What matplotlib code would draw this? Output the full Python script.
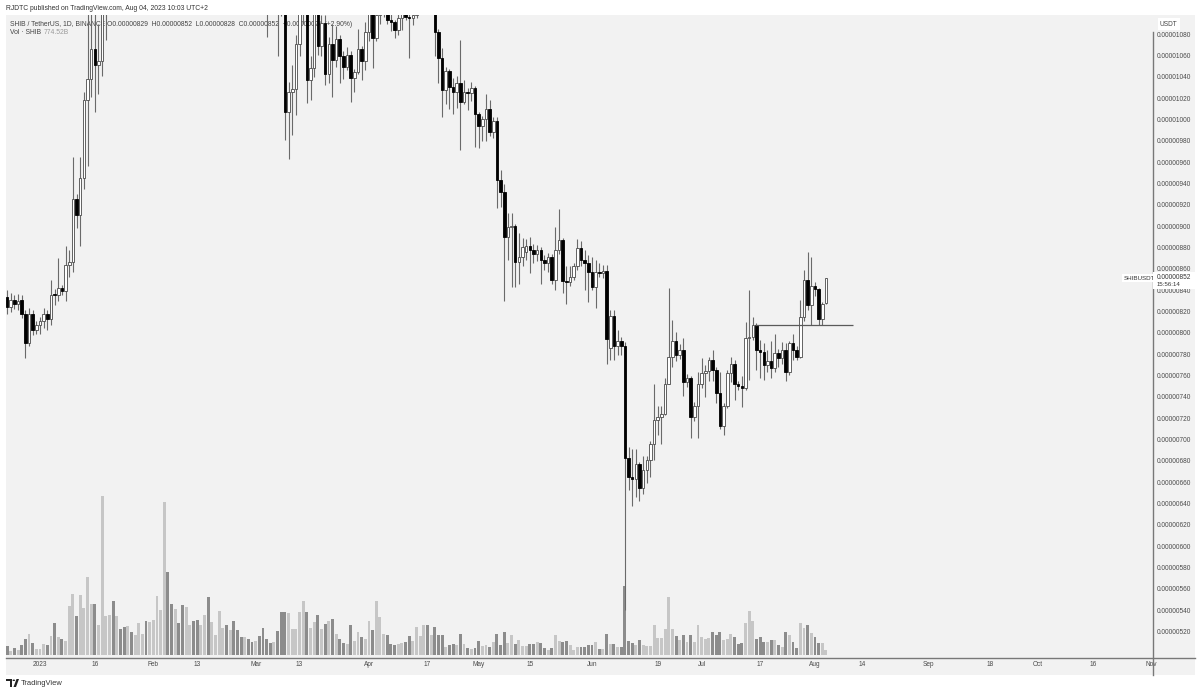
import numpy as np
import pandas as pd
import matplotlib
matplotlib.use('Agg')
import matplotlib.pyplot as plt
from matplotlib.patches import Rectangle, Polygon, Circle
from matplotlib import transforms

plt.rcParams['font.family'] = ['Liberation Sans', 'DejaVu Sans']

W, H = 1200, 691

# daily candles from 2022-12-23, prices in units of 1e-8 USDT
start_date = '2022-12-23'
opens = [834, 825, 832, 828, 832, 818, 791, 818, 803, 808, 812, 818, 814, 837, 836, 843, 840, 864, 867, 926,
         911, 946, 1019, 1039, 1067, 1052, 1056, 1150, 1175, 1190, 1165, 1185, 1170, 1160, 1195, 1180, 1200, 1215, 1230, 1210,
         1240, 1280, 1300, 1330, 1420, 1340, 1290, 1310, 1270, 1220, 1240, 1250, 1210, 1190, 1230, 1310, 1290, 1320, 1340, 1370,
         1390, 1340, 1360, 1320, 1280, 1250, 1270, 1240, 1220, 1230, 1200, 1170, 1140, 1130, 1135, 1125, 1108, 1008, 1027, 1029,
         1072, 1105, 1112, 1038, 1049, 1105, 1070, 1091, 1043, 1072, 1057, 1076, 1060, 1050, 1061, 1040, 1045, 1067, 1056, 1083,
         1108, 1077, 1099, 1104, 1108, 1094, 1092, 1085, 1096, 1101, 1097, 1096, 1099, 1108, 1115, 1120, 1112, 1118, 1083, 1058,
         1028, 1046, 1031, 1027, 1035, 1017, 1027, 1026, 1030, 1006, 995, 1001, 1011, 989, 999, 944, 933, 891, 900, 901,
         867, 872, 877, 882, 878, 875, 878, 869, 866, 872, 850, 878, 888, 849, 848, 853, 863, 880, 869, 866,
         858, 844, 858, 857, 859, 787, 817, 788, 793, 788, 683, 666, 664, 678, 655, 672, 682, 697, 719, 722,
         725, 753, 778, 793, 780, 785, 755, 758, 722, 732, 753, 763, 765, 775, 766, 744, 713, 732, 763, 772,
         753, 751, 749, 796, 797, 808, 785, 783, 771, 774, 768, 782, 777, 785, 764, 791, 785, 778, 816, 850,
         827, 845, 842, 814, 829]
highs = [841, 838, 836, 837, 836, 822, 824, 822, 812, 816, 824, 822, 850, 842, 871, 846, 882, 878, 966, 931,
         966, 1027, 1110, 1115, 1105, 1090, 1170, 1190, 1200, 1198, 1195, 1192, 1178, 1205, 1202, 1210, 1222, 1240, 1236, 1248,
         1290, 1312, 1340, 1570, 1430, 1350, 1322, 1318, 1280, 1250, 1260, 1256, 1218, 1240, 1325, 1330, 1330, 1350, 1390, 1400,
         1396, 1372, 1366, 1328, 1290, 1280, 1276, 1248, 1240, 1236, 1208, 1178, 1150, 1145, 1142, 1130, 1115, 1036, 1052, 1080,
         1112, 1125, 1118, 1060, 1112, 1110, 1099, 1099, 1078, 1090, 1088, 1080, 1065, 1069, 1065, 1048, 1086, 1070, 1092, 1115,
         1112, 1104, 1112, 1115, 1112, 1100, 1094, 1100, 1106, 1108, 1105, 1104, 1113, 1122, 1128, 1125, 1125, 1120, 1086, 1068,
         1050, 1048, 1040, 1042, 1075, 1038, 1030, 1036, 1032, 1008, 1004, 1025, 1019, 1003, 1003, 953, 940, 913, 913, 903,
         894, 890, 889, 891, 884, 883, 881, 874, 876, 875, 900, 917, 890, 863, 863, 866, 889, 887, 878, 874,
         872, 869, 866, 864, 864, 822, 822, 803, 797, 792, 694, 692, 692, 680, 685, 685, 699, 753, 732, 732,
         758, 843, 813, 802, 790, 796, 762, 760, 736, 764, 777, 771, 778, 785, 769, 764, 735, 766, 778, 775,
         756, 760, 811, 841, 816, 810, 794, 791, 785, 793, 800, 786, 792, 791, 793, 800, 788, 832, 860, 877,
         872, 848, 843, 830, 852]
lows = [818, 820, 823, 822, 815, 777, 788, 799, 800, 800, 805, 803, 808, 827, 831, 836, 831, 853, 858, 899,
        882, 936, 957, 1022, 1008, 1025, 1042, 1075, 1165, 1155, 1158, 1162, 1150, 1152, 1172, 1175, 1192, 1205, 1200, 1204,
        1232, 1270, 1290, 1320, 1320, 1275, 1280, 1260, 1200, 1205, 1228, 1200, 1180, 1184, 1222, 1270, 1282, 1310, 1330, 1355,
        1330, 1332, 1310, 1270, 1240, 1242, 1232, 1210, 1212, 1190, 1160, 1078, 1120, 1120, 1060, 1098, 982, 964, 986, 1005,
        1060, 1090, 1016, 1019, 1041, 1061, 1060, 1033, 1035, 1022, 1050, 1035, 1039, 1047, 1017, 1027, 1043, 1038, 1047, 1074,
        1049, 1074, 1090, 1097, 1090, 1084, 1077, 1080, 1085, 1094, 1058, 1089, 1096, 1104, 1110, 1104, 1106, 1060, 1035, 1003,
        1015, 1011, 1006, 1012, 972, 1015, 1010, 1018, 975, 974, 981, 981, 985, 983, 918, 919, 831, 869, 844, 844,
        847, 863, 869, 857, 866, 868, 847, 860, 858, 847, 841, 875, 838, 828, 845, 850, 860, 863, 841, 830,
        841, 824, 853, 852, 772, 775, 775, 780, 780, 541, 653, 638, 647, 643, 650, 660, 666, 682, 705, 697,
        724, 753, 769, 774, 776, 742, 750, 702, 718, 702, 749, 741, 756, 756, 735, 711, 705, 730, 755, 738,
        747, 731, 747, 757, 794, 766, 758, 757, 764, 758, 764, 769, 772, 756, 761, 775, 775, 777, 812, 822,
        808, 835, 808, 808, 828]
closes = [825, 832, 828, 831, 818, 791, 818, 803, 808, 812, 818, 814, 836, 836, 843, 840, 864, 867, 926, 911,
          946, 1019, 1039, 1067, 1052, 1056, 1150, 1175, 1190, 1165, 1185, 1170, 1160, 1195, 1180, 1200, 1215, 1230, 1210, 1240,
          1280, 1300, 1330, 1420, 1340, 1290, 1310, 1270, 1220, 1240, 1250, 1210, 1190, 1230, 1310, 1290, 1320, 1340, 1370, 1390,
          1340, 1360, 1320, 1280, 1250, 1270, 1240, 1220, 1230, 1200, 1170, 1140, 1130, 1135, 1125, 1108, 1008, 1027, 1029, 1072,
          1105, 1112, 1038, 1049, 1105, 1070, 1091, 1043, 1072, 1057, 1076, 1060, 1050, 1061, 1040, 1045, 1067, 1056, 1083, 1108,
          1077, 1099, 1104, 1108, 1094, 1092, 1085, 1096, 1101, 1097, 1096, 1099, 1108, 1115, 1120, 1112, 1118, 1083, 1058, 1028,
          1046, 1031, 1027, 1035, 1017, 1027, 1026, 1030, 1006, 995, 1001, 1011, 989, 999, 944, 933, 891, 900, 901, 867,
          872, 881, 882, 878, 875, 878, 869, 866, 872, 850, 878, 888, 849, 848, 853, 863, 880, 869, 866, 858,
          844, 858, 857, 859, 795, 817, 788, 793, 788, 683, 666, 664, 678, 655, 672, 682, 697, 719, 722, 725,
          753, 778, 793, 780, 785, 755, 758, 722, 732, 753, 763, 765, 775, 766, 744, 713, 732, 763, 772, 753,
          751, 749, 796, 797, 808, 785, 783, 771, 774, 768, 782, 777, 785, 764, 791, 785, 778, 816, 850, 827,
          845, 842, 814, 828, 852]
# volume in billions of SHIB
volumes = [1450, 620, 1030, 780, 1550, 2430, 3200, 1860, 930, 930, 1700, 1550, 2950, 4960, 2790, 2480, 2220, 7600, 9510, 6050,
           9400, 7390, 12140, 7900, 7900, 4750, 24800, 6050, 6250, 8470, 6050, 4030, 4390, 4550, 3570, 3050, 4960, 3310, 5270, 5170,
           5430, 9250, 6980, 23870, 12920, 8010, 7130, 4960, 7850, 7440, 4650, 5270, 5430, 4650, 6250, 8990, 5120, 3150, 6870, 4240,
           4750, 3880, 5370, 3880, 2790, 2790, 2480, 1960, 2170, 2950, 4190, 2430, 1910, 2070, 3670, 6670, 6670, 6560, 4130, 4130,
           6670, 8370, 6670, 4240, 5170, 6250, 4080, 4810, 5370, 5530, 3260, 2530, 1910, 1650, 4650, 2220, 3510, 2840, 2530, 5270,
           3880, 8470, 5940, 3260, 3150, 1760, 1600, 1700, 1910, 2020, 3000, 2170, 4390, 2890, 4600, 4650, 3100, 4290, 3100, 3100,
           1290, 1500, 1700, 1600, 3260, 1700, 1030, 930, 1140, 2220, 1450, 1600, 1290, 1960, 3260, 1500, 3510, 1860, 3050, 1700,
           2380, 1400, 1340, 1650, 1650, 2020, 1860, 1140, 780, 1140, 3100, 2220, 1960, 2120, 1550, 780, 1190, 1190, 1290, 1600,
           1500, 2020, 880, 930, 3260, 1700, 1700, 1190, 1290, 10700, 2120, 1860, 1550, 2270, 1550, 1450, 1340, 4750, 2580, 2580,
           4030, 9090, 4080, 2950, 2270, 3100, 1960, 3100, 1960, 4600, 2740, 2430, 2580, 3510, 3100, 3510, 2270, 2480, 3200, 2840,
           1760, 1810, 5010, 6920, 5220, 2480, 2840, 1960, 2020, 2270, 2270, 1600, 1190, 3510, 3100, 1960, 1140, 5010, 4190, 4700,
           3360, 2740, 1860, 1810, 775]

tick_dates = ['2023-01-01', '2023-01-16', '2023-02-01', '2023-02-13', '2023-03-01', '2023-03-13', '2023-04-01',
              '2023-04-17', '2023-05-01', '2023-05-15', '2023-06-01', '2023-06-19', '2023-07-01', '2023-07-17',
              '2023-08-01', '2023-08-14', '2023-09-01', '2023-09-18', '2023-10-01', '2023-10-16', '2023-11-01']
tick_labels = ['2023', '16', 'Feb', '13', 'Mar', '13', 'Apr', '17', 'May', '15', 'Jun', '19', 'Jul', '17',
               'Aug', '14', 'Sep', '18', 'Oct', '16', 'Nov']
price_ticks = list(range(520, 1081, 20))
level_price = 808
level_span = ('2023-07-15', '2023-08-12')

base = pd.Timestamp('2023-01-01')
dates = pd.date_range(start_date, periods=len(opens), freq='D')
x = np.asarray((dates - base).days, dtype=float)
o = np.array(opens, float)
h = np.array(highs, float)
l = np.array(lows, float)
c = np.array(closes, float)
v = np.array(volumes, float)
up = c >= o


def fx(px):
    return px / W


def fy(py):
    return 1 - py / H


fig = plt.figure(figsize=(W / 100, H / 100), dpi=100)
fig.patch.set_facecolor('white')
fig.patches.append(Rectangle((fx(6), fy(675)), fx(1195) - fx(6), fy(15) - fy(675),
                             transform=fig.transFigure, facecolor='#f2f2f2', edgecolor='none', zorder=0))

ax_rect = [fx(6), fy(657), fx(1152) - fx(6), fy(15) - fy(657)]
ax = fig.add_axes(ax_rect)
axv = fig.add_axes(ax_rect)
axv.set_zorder(1)
ax.set_zorder(2)
for a in (ax, axv):
    a.patch.set_visible(False)
    for s in a.spines.values():
        s.set_visible(False)
    a.set_xticks([])
    a.set_yticks([])
    a.set_xlim(-9.3, 304.2)

# volume
axv.set_ylim(-300, 99500)
axv.bar(x, v, width=0.8, color=np.where(up, '#c6c6c6', '#8c8c8c'), linewidth=0)

# candles
ax.set_ylim(496.9, 1098.75)
ax.vlines(x, l, h, color='#6a6a6a', linewidth=0.8, zorder=2)
lo = np.minimum(o, c)
bh = np.maximum(np.abs(c - o), 0.8)
ax.bar(x[up], bh[up], bottom=lo[up], width=0.7, color='white', edgecolor='#4a4a4a', linewidth=0.6, zorder=3)
ax.bar(x[~up], bh[~up], bottom=lo[~up], width=0.7, color='black', edgecolor='black', linewidth=0.6, zorder=3)

lx = (pd.to_datetime(list(level_span)) - base).days
ax.hlines(level_price, lx[0] + 0.5, lx[1] - 0.5, color='#5a5a5a', linewidth=0.9, zorder=4)

# axis separators
fig.lines.append(plt.Line2D([fx(1152.5), fx(1152.5)], [fy(32), fy(675)], transform=fig.transFigure,
                            color='#787878', linewidth=1))
fig.lines.append(plt.Line2D([fx(6), fx(1195)], [fy(657.5), fy(657.5)], transform=fig.transFigure,
                            color='#787878', linewidth=1))

# price scale
pt = transforms.blended_transform_factory(fig.transFigure, ax.transData)
for p in price_ticks:
    ax.text(fx(1157), p, f'{p / 1e8:.8f}', transform=pt, fontsize=4.7, color='#4a4a4a',
            va='center', ha='left', clip_on=False)

# time scale
clip = Rectangle((fx(6), fy(675)), fx(1152) - fx(6), fy(657) - fy(675), transform=fig.transFigure,
                 facecolor='none', edgecolor='none')
fig.patches.append(clip)
tt = transforms.blended_transform_factory(ax.transData, fig.transFigure)
tx = (pd.to_datetime(tick_dates) - base).days
for d, lab in zip(tx, tick_labels):
    t = ax.text(d, fy(664), lab, transform=tt, fontsize=4.7, color='#4a4a4a', ha='center', va='center')
    t.set_clip_path(clip)

# header and legend
fig.text(fx(6), fy(8), 'RJDTC published on TradingView.com, Aug 04, 2023 10:03 UTC+2',
         fontsize=4.9, color='#333333', va='center')
fig.text(fx(10), fy(24), 'SHIB / TetherUS, 1D, BINANCE', fontsize=4.9, color='#444444', va='center', zorder=1)
fig.text(fx(107), fy(24), 'O0.00000829  H0.00000852  L0.00000828  C0.00000852  +0.00000024 (+2.90%)',
         fontsize=4.9, color='#444444', va='center', zorder=1)
fig.text(fx(10), fy(33), 'Vol · SHIB', fontsize=4.9, color='#444444', va='center', zorder=1)
fig.text(fx(44), fy(33), '774.52B', fontsize=4.9, color='#9a9a9a', va='center', zorder=1)

# right side labels
box = dict(boxstyle='square,pad=0.35', facecolor='white', edgecolor='none')
fig.text(fx(1160), fy(24), 'USDT', fontsize=4.7, color='#444444', va='center', bbox=box)
fig.patches.append(Rectangle((fx(1153), fy(288.5)), fx(1195) - fx(1153), fy(272) - fy(288.5),
                             transform=fig.transFigure, facecolor='white', edgecolor='none', zorder=5))
fig.text(fx(1157), fy(277.5), f'{closes[-1] / 1e8:.8f}', fontsize=4.7, color='#333333', va='center', zorder=6)
fig.text(fx(1157), fy(284.5), '15:56:14', fontsize=4.4, color='#333333', va='center', zorder=6)
fig.text(fx(1124), fy(278), 'SHIBUSDT', fontsize=4.5, color='#333333', va='center',
         bbox=dict(boxstyle='square,pad=0.3', facecolor='white', edgecolor='none'))

# TradingView logo
def pts(coords):
    return [(fx(a), fy(b)) for a, b in coords]

fig.patches.append(Polygon(pts([(6, 679), (12, 679), (12, 687), (10, 687), (10, 681), (6, 681)]),
                           closed=True, transform=fig.transFigure, facecolor='#222222', edgecolor='none'))
fig.patches.append(Circle((fx(13.8), fy(680.3)), 1.3 / W, transform=fig.transFigure,
                          facecolor='#222222', edgecolor='none'))
fig.patches.append(Polygon(pts([(16.5, 679), (19, 679), (16, 687), (13.5, 687)]),
                           closed=True, transform=fig.transFigure, facecolor='#222222', edgecolor='none'))
fig.text(fx(21), fy(683.5), 'TradingView', fontsize=5.4, color='#333333', va='center')

fig.savefig('out.png', dpi=100)
